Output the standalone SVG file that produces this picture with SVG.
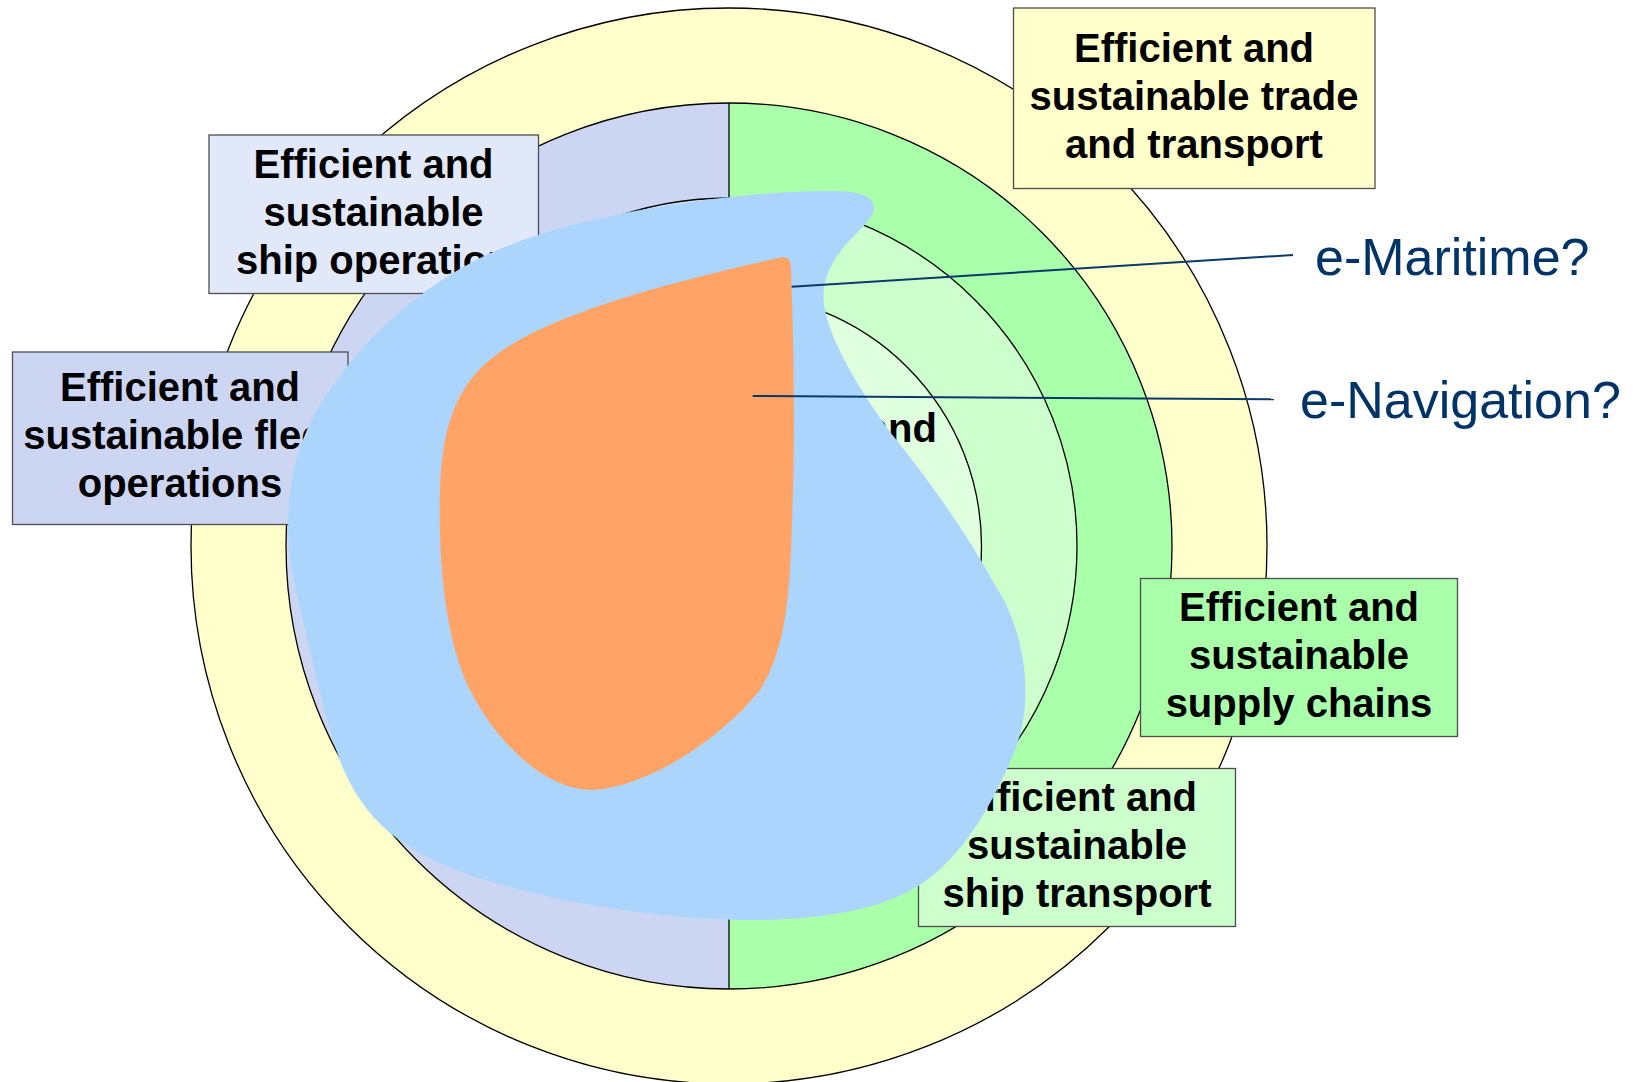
<svg xmlns="http://www.w3.org/2000/svg" width="1644" height="1082" viewBox="0 0 1644 1082">
<style>
.ring{stroke:#000;stroke-width:1.3;fill:none}
.box{stroke:#4d4d4d;stroke-width:1.3}
.lbl{font-family:"Liberation Sans",Arial,sans-serif;font-weight:bold;font-size:40px;fill:#000;text-anchor:middle}
.q{font-family:"Liberation Sans",Arial,sans-serif;font-size:52px;fill:#003466}
.conn{stroke:#0a3a6b;stroke-width:2;fill:none}
</style>
<rect width="1644" height="1082" fill="#fff"/>
<g id="rings">
<circle cx="729" cy="546" r="538" fill="#FFFFCC"/>
<path d="M729,103 A443,443 0 0 0 729,989 Z" fill="#CCD6F2"/>
<path d="M729,103 A443,443 0 0 1 729,989 Z" fill="#AAFFAA"/>
<path d="M729,198 A348,348 0 0 0 729,894 Z" fill="#E1E8F9"/>
<path d="M729,198 A348,348 0 0 1 729,894 Z" fill="#CCFFCC"/>
<path d="M729,293.5 A252.5,252.5 0 0 0 729,798.5 Z" fill="#EEF2FC"/>
<path d="M729,293.5 A252.5,252.5 0 0 1 729,798.5 Z" fill="#DFFFDF"/>
<circle class="ring" cx="729" cy="546" r="538"/>
<circle class="ring" cx="729" cy="546" r="443"/>
<circle class="ring" cx="729" cy="546" r="348"/>
<circle class="ring" cx="729" cy="546" r="252.5"/>
<line x1="729" y1="103" x2="729" y2="989" stroke="#000" stroke-width="1.3"/>
</g>
<g id="node-trade">
<rect class="box" x="1013.5" y="8" width="361.5" height="180.5" fill="#FFFFCC"/>
<text class="lbl" x="1194" y="62">Efficient and</text>
<text class="lbl" x="1194" y="110">sustainable trade</text>
<text class="lbl" x="1194" y="158">and transport</text>
</g>
<g id="node-ship-operations">
<rect class="box" x="209" y="135" width="329.5" height="158.5" fill="#E1E8F9"/>
<text class="lbl" x="373.5" y="178">Efficient and</text>
<text class="lbl" x="373.5" y="226">sustainable</text>
<text class="lbl" x="236" y="274" style="text-anchor:start">ship operations</text>
</g>
<g id="node-fleet">
<rect class="box" x="12.5" y="352" width="335.5" height="172.5" fill="#CCD6F2"/>
<text class="lbl" x="180" y="401">Efficient and</text>
<text class="lbl" x="180" y="449">sustainable fleet</text>
<text class="lbl" x="180" y="497">operations</text>
</g>
<g id="node-supply">
<rect class="box" x="1140.5" y="578.5" width="317" height="158" fill="#AAFFAA"/>
<text class="lbl" x="1299" y="621">Efficient and</text>
<text class="lbl" x="1299" y="669">sustainable</text>
<text class="lbl" x="1299" y="717">supply chains</text>
</g>
<g id="node-ship-transport">
<rect class="box" x="918.5" y="768.5" width="317" height="158" fill="#CCFFCC"/>
<text class="lbl" x="1077" y="811">Efficient and</text>
<text class="lbl" x="1077" y="859">sustainable</text>
<text class="lbl" x="1077" y="907">ship transport</text>
</g>
<g id="node-inner">
<text class="lbl" x="937" y="442" style="text-anchor:end">Efficient and</text>
</g>
<g id="node-emaritime">
<path d="M874,208 C874,196 860,191 830,191 C800,191 770,193 740,196 C640,206 540,228 480,258 C420,288 360,340 320,405 C285,462 282,530 296,590 C310,650 325,720 342,766 C365,820 400,850 470,875 C550,902 650,918 740,920 C820,921 880,910 920,885 C965,855 995,800 1015,750 C1035,700 1025,630 995,585 C965,530 925,475 890,432 C860,390 832,345 825,310 C818,280 835,255 855,235 C868,222 874,215 874,208 Z" fill="#ABD5FC"/>
</g>
<g id="node-enavigation">
<path d="M783,257 C789,257 791,262 791,270 C793,330 796,420 792,520 C790,600 785,650 760,690 C720,740 650,785 595,790 C545,792 495,740 470,690 C445,640 438,560 440,490 C442,420 460,380 500,352 C560,310 680,280 783,257 Z" fill="#FFA366"/>
</g>
<g id="connectors">
<line class="conn" x1="791.6" y1="286.8" x2="1293" y2="255"/>
<line class="conn" x1="752.7" y1="396" x2="1274" y2="399.3"/>
</g>
<g id="labels">
<text class="q" x="1315" y="275">e-Maritime?</text>
<text class="q" x="1300" y="418">e-Navigation?</text>
</g>
</svg>
